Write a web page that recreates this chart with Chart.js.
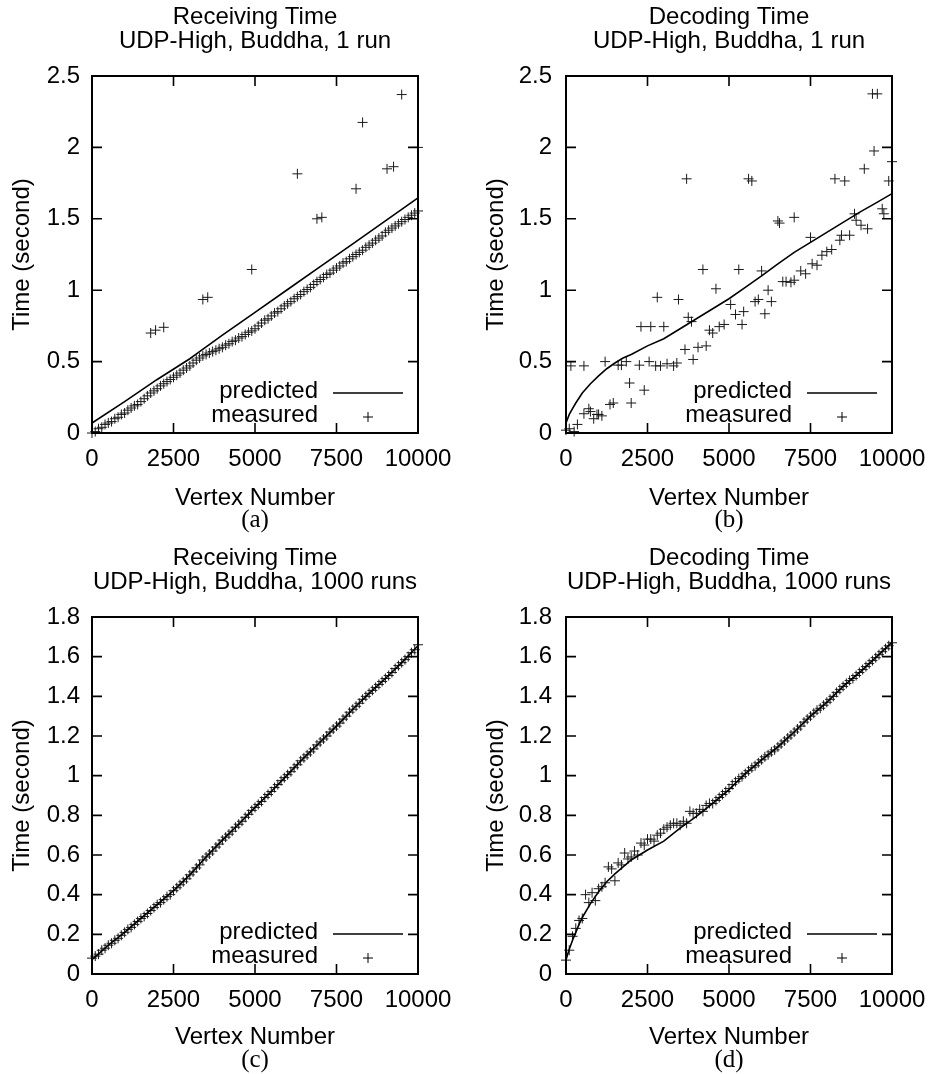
<!DOCTYPE html>
<html>
<head>
<meta charset="utf-8">
<script src="https://cdn.jsdelivr.net/npm/chart.js@4.4.1/dist/chart.umd.min.js"></script>
<style>
html,body{margin:0;padding:0;background:#fff;overflow:hidden;width:933px;height:1074px;position:relative;}
canvas{position:absolute;}
</style>
</head>
<body>
<canvas id="ca" width="510" height="541" style="left:0px;top:0px"></canvas>
<canvas id="cb" width="510" height="541" style="left:474px;top:0px"></canvas>
<canvas id="cc" width="510" height="533" style="left:0px;top:541px"></canvas>
<canvas id="cd" width="510" height="533" style="left:474px;top:541px"></canvas>
<script>
// ---------- DATA ----------
const measuredVertexStep = 100; // measurements sampled every 100 vertices

// (a) Receiving Time, 1 run
const aPredX = [0,1000,2000,3000,3300,4000,5000,6000,7000,8000,9000,10000];
const aPredY = [0.07,0.22,0.375,0.52,0.57,0.685,0.845,1.005,1.165,1.325,1.485,1.646];
const aMeasY = [0.00,
  0.01,0.03,0.04,0.06,0.07,0.08,0.10,0.11,0.13,0.14,
  0.16,0.175,0.19,0.20,0.22,0.24,0.26,0.28,0.295,0.31,
  0.33,0.345,0.36,0.375,0.39,0.405,0.42,0.44,0.455,0.47,
  0.49,0.51,0.525,0.54,0.55,0.56,0.57,0.58,0.59,0.60,
  0.615,0.625,0.64,0.65,0.665,0.675,0.69,0.705,0.715,0.73,
  0.75,0.77,0.79,0.80,0.82,0.84,0.85,0.87,0.89,0.905,
  0.92,0.94,0.955,0.97,0.99,1.005,1.02,1.04,1.06,1.075,
  1.09,1.11,1.12,1.14,1.155,1.17,1.19,1.20,1.22,1.235,
  1.25,1.265,1.28,1.30,1.315,1.33,1.35,1.365,1.38,1.405,
  1.42,1.435,1.45,1.465,1.48,1.495,1.51,1.525,1.54,1.555];
const aOutX = [1800,1950,2200,3400,3550,4900,6300,6900,7050,8100,8300,9050,9250,9500,10000];
const aOutY = [0.70,0.72,0.74,0.935,0.95,1.145,1.815,1.50,1.51,1.71,2.175,1.85,1.865,2.37,2.0];

// (b) Decoding Time, 1 run
const bPredX = [0,100,200,300,500,750,1000,1250,1500,1750,2000,2500,3000,3500,4000,4500,5000,5500,6000,6500,7000,7500,8000,8500,9000,9500,10000];
const bPredY = [0.07,0.13,0.17,0.21,0.28,0.345,0.40,0.45,0.49,0.525,0.55,0.61,0.66,0.73,0.80,0.87,0.94,1.02,1.10,1.185,1.265,1.335,1.405,1.475,1.545,1.61,1.676];
const bMeasX = [0,100,250,350,550,700,750,850,950,1000,1100,1350,1450,2000,1950,2400,
  150,550,1200,1600,1700,1850,2250,2550,2750,2900,3100,3300,3400,3650,3900,
  2300,2600,3000,2800,3450,3750,3850,4050,4300,4200,4400,4500,4600,4700,4850,5050,5200,5300,5400,5450,
  5800,5900,6000,6100,6200,6300,6650,6750,6900,7000,7200,7350,7500,7550,7700,7850,8000,8150,8250,
  8400,8450,8550,8700,8850,8900,9050,9150,9250,9400,9550,9450,9700,9750,9900,10000,
  3700,5600,5700,6500,6550,7000];
const bMeasY = [0.02,0.03,0.01,0.06,0.135,0.17,0.15,0.10,0.13,0.13,0.12,0.20,0.21,0.21,0.35,0.30,
  0.47,0.47,0.50,0.475,0.475,0.50,0.475,0.50,0.47,0.47,0.485,0.47,0.49,0.585,0.515,
  0.745,0.745,0.745,0.95,0.935,0.81,0.78,0.60,0.61,1.145,0.72,0.70,1.01,0.745,0.76,0.90,0.83,1.145,0.76,0.85,
  0.92,0.935,1.135,0.835,1.0,0.92,1.06,1.06,1.055,1.07,1.135,1.115,1.37,1.185,1.175,1.245,1.27,1.285,1.78,
  1.35,1.385,1.765,1.385,1.535,1.49,1.455,1.85,1.43,2.375,2.375,1.975,1.57,1.535,1.765,1.90,
  1.78,1.78,1.765,1.485,1.47,1.51];

// (c) Receiving Time, 1000 runs
const cPredX = [0,500,1000,1500,2000,2500,3000,3500,4000,4500,5000,5500,6000,6500,7000,7500,8000,8500,9000,9500,10000];
const cPredY = [0.072,0.145,0.21,0.28,0.35,0.42,0.50,0.59,0.675,0.755,0.84,0.92,1.005,1.09,1.17,1.25,1.335,1.415,1.49,1.57,1.655];
const cMeasY = [0.08,
  0.09,0.10,0.12,0.13,0.145,0.155,0.17,0.18,0.195,0.21,
  0.225,0.235,0.25,0.265,0.28,0.29,0.305,0.32,0.335,0.35,
  0.36,0.375,0.39,0.40,0.42,0.435,0.45,0.465,0.48,0.50,
  0.515,0.535,0.55,0.575,0.59,0.605,0.62,0.64,0.655,0.675,
  0.69,0.705,0.72,0.74,0.755,0.77,0.79,0.805,0.825,0.84,
  0.855,0.87,0.89,0.905,0.92,0.94,0.955,0.975,0.99,1.005,
  1.02,1.04,1.055,1.075,1.09,1.105,1.12,1.135,1.155,1.17,
  1.185,1.20,1.22,1.235,1.25,1.265,1.285,1.30,1.32,1.335,
  1.35,1.365,1.385,1.40,1.415,1.43,1.445,1.46,1.475,1.49,
  1.505,1.52,1.54,1.555,1.57,1.585,1.60,1.62,1.635,1.66];

// (d) Decoding Time, 1000 runs
const dPredX = [0,100,200,300,400,500,750,1000,1250,1500,1750,2000,2500,3000,3500,4000,4500,5000,5500,6000,6500,7000,7500,8000,8500,9000,9500,10000];
const dPredY = [0.072,0.125,0.17,0.21,0.25,0.285,0.355,0.415,0.465,0.505,0.54,0.575,0.625,0.67,0.735,0.795,0.86,0.93,1.01,1.08,1.145,1.22,1.30,1.37,1.45,1.52,1.595,1.672];
const dMeasY = [0.07,
  0.12,0.19,0.23,0.27,0.28,0.40,0.36,0.41,0.37,0.43,
  0.44,0.46,0.54,0.53,0.47,0.56,0.55,0.61,0.58,0.59,
  0.62,0.60,0.66,0.65,0.68,0.68,0.67,0.70,0.71,0.73,
  0.74,0.75,0.76,0.76,0.75,0.77,0.76,0.82,0.81,0.81,
  0.83,0.82,0.85,0.86,0.86,0.875,0.89,0.905,0.92,0.935,
  0.955,0.97,0.985,0.995,1.01,1.025,1.04,1.05,1.065,1.08,
  1.095,1.105,1.12,1.13,1.145,1.16,1.175,1.19,1.205,1.22,
  1.235,1.25,1.27,1.285,1.30,1.315,1.33,1.34,1.355,1.37,
  1.385,1.40,1.42,1.435,1.45,1.465,1.48,1.49,1.505,1.52,
  1.535,1.55,1.565,1.58,1.595,1.61,1.625,1.64,1.655,1.67];

const xTicks = [0,2500,5000,7500,10000];

// ---------- HELPERS ----------
function pairs(xs, ys){ return xs.map((x,i)=>({x:x, y:ys[i]})); }
function gridPairs(ys){ return ys.map((y,i)=>({x:i*measuredVertexStep, y:y})); }

const SANS = '"Liberation Sans", Arial, Helvetica, sans-serif';
const SERIF = '"Liberation Serif", "DejaVu Serif", serif';

const gnuplotFrame = {
  id: 'gnuplotFrame',
  afterDatasetsDraw(chart){
    const {ctx, chartArea:a, scales} = chart;
    const x = scales.x, y = scales.y;
    ctx.save();
    ctx.strokeStyle = '#000';
    ctx.lineWidth = 1.6;
    ctx.beginPath();
    x.ticks.forEach(t => {
      const px = x.getPixelForValue(t.value);
      ctx.moveTo(px, a.bottom); ctx.lineTo(px, a.bottom - 10);
      ctx.moveTo(px, a.top); ctx.lineTo(px, a.top + 10);
    });
    y.ticks.forEach(t => {
      const py = y.getPixelForValue(t.value);
      ctx.moveTo(a.left, py); ctx.lineTo(a.left + 10, py);
      ctx.moveTo(a.right, py); ctx.lineTo(a.right - 10, py);
    });
    ctx.stroke();
    ctx.lineWidth = 2;
    ctx.strokeRect(a.left, a.top, a.right - a.left, a.bottom - a.top);
    ctx.restore();
  },
  afterDraw(chart){
    const {ctx, chartArea:a} = chart;
    const ds = chart.data.datasets;
    ctx.save();
    ctx.font = '24px ' + SANS;
    ctx.fillStyle = '#000';
    ctx.textAlign = 'right';
    ctx.textBaseline = 'middle';
    ctx.fillText(ds[0].label, a.right - 100, a.bottom - 42);
    ctx.fillText(ds[1].label, a.right - 100, a.bottom - 18);
    ctx.strokeStyle = '#000';
    ctx.lineWidth = 1.6;
    ctx.beginPath();
    ctx.moveTo(a.right - 85, a.bottom - 40); ctx.lineTo(a.right - 15, a.bottom - 40);
    ctx.stroke();
    ctx.lineWidth = 1;
    ctx.beginPath();
    const cx = a.right - 50, cy = a.bottom - 16;
    ctx.moveTo(cx - 5, cy); ctx.lineTo(cx + 5, cy);
    ctx.moveTo(cx, cy - 5); ctx.lineTo(cx, cy + 5);
    ctx.stroke();
    ctx.restore();
  }
};

function makeChart(id, p){
  return new Chart(document.getElementById(id), {
    type: 'scatter',
    data: { datasets: [
      { label: 'predicted', data: p.pred, showLine: true, borderColor: '#000', backgroundColor: '#000',
        borderWidth: 1.6, pointRadius: 0, pointHoverRadius: 0, tension: 0, fill: false, clip: false },
      { label: 'measured', data: p.meas, showLine: false, pointStyle: 'cross', pointRadius: 5,
        pointHoverRadius: 5, pointBorderWidth: 1, borderWidth: 1, borderColor: '#1a1a1a', backgroundColor: '#1a1a1a', clip: false }
    ]},
    options: {
      responsive: false, animation: false, devicePixelRatio: 1,
      layout: { padding: 0 },
      events: [],
      plugins: {
        legend: { display: false },
        tooltip: { enabled: false },
        title: { display: true, text: p.title, color: '#000',
          font: { family: SANS, size: 24, weight: 'normal', lineHeight: 1 },
          padding: { top: 5, bottom: 23 } },
        subtitle: { display: true, text: p.caption, position: 'bottom', color: '#000',
          font: { family: SERIF, size: 25, weight: 'normal', lineHeight: 0.8 },
          padding: { top: 0, bottom: p.capPad } }
      },
      scales: {
        x: { type: 'linear', position: 'bottom', min: 0, max: 10000,
          afterBuildTicks: s => { s.ticks = xTicks.map(v => ({value: v})); },
          afterFit: s => { s.height = p.xH; },
          ticks: { color: '#000', font: { family: SANS, size: 24, lineHeight: 1 }, padding: 14,
            autoSkip: false, maxRotation: 0, callback: v => String(v) },
          grid: { display: false, drawTicks: false }, border: { display: false },
          title: { display: true, text: 'Vertex Number', color: '#000',
            font: { family: SANS, size: 24, lineHeight: 1 }, padding: { top: 0, bottom: p.xTitlePad } } },
        y: { type: 'linear', position: 'left', min: 0, max: p.yMax,
          afterFit: s => { s.width = 92; },
          ticks: { color: '#000', font: { family: SANS, size: 24, lineHeight: 1 }, padding: p.yPad,
            stepSize: p.yStep, autoSkip: false, callback: v => String(Math.round(v * 10) / 10) },
          grid: { display: false, drawTicks: false }, border: { display: false },
          title: { display: true, text: 'Time (second)', color: '#000',
            font: { family: SANS, size: 24, lineHeight: 1 }, padding: { top: 10, bottom: 0 } } },
        yR: { type: 'linear', position: 'right', display: true,
          afterFit: s => { s.width = 92; },
          ticks: { display: false }, grid: { display: false, drawTicks: false }, border: { display: false } }
      }
    },
    plugins: [gnuplotFrame]
  });
}

makeChart('ca', { title: ['Receiving Time', 'UDP-High, Buddha, 1 run'], caption: '(a)',
  pred: pairs(aPredX, aPredY), meas: gridPairs(aMeasY).concat(pairs(aOutX, aOutY)),
  yMax: 2.5, yStep: 0.5, yPad: 12, xH: 77, xTitlePad: 0, capPad: 11 });
makeChart('cb', { title: ['Decoding Time', 'UDP-High, Buddha, 1 run'], caption: '(b)',
  pred: pairs(bPredX, bPredY), meas: pairs(bMeasX, bMeasY),
  yMax: 2.5, yStep: 0.5, yPad: 14, xH: 77, xTitlePad: 0, capPad: 11 });
makeChart('cc', { title: ['Receiving Time', 'UDP-High, Buddha, 1000 runs'], caption: '(c)',
  pred: pairs(cPredX, cPredY), meas: gridPairs(cMeasY),
  yMax: 1.8, yStep: 0.2, yPad: 12, xH: 76, xTitlePad: 1, capPad: 4 });
makeChart('cd', { title: ['Decoding Time', 'UDP-High, Buddha, 1000 runs'], caption: '(d)',
  pred: pairs(dPredX, dPredY), meas: gridPairs(dMeasY),
  yMax: 1.8, yStep: 0.2, yPad: 14, xH: 76, xTitlePad: 1, capPad: 4 });
</script>
</body>
</html>
